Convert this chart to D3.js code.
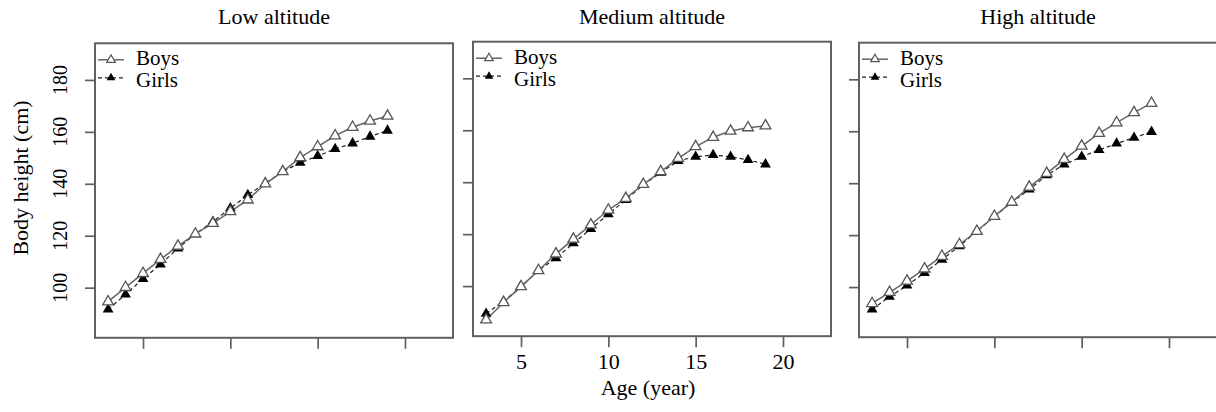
<!DOCTYPE html>
<meta charset='utf-8'>
<body style='margin:0;background:#fff'>
<script src='https://d3js.org/d3.v7.min.js'></script>
<script>
  const ages = [3, 4, 5, 6, 7, 8, 9, 10, 11, 12, 13, 14, 15, 16, 17, 18, 19];

  const lowBoys   = [94.6, 100.1, 105.5, 110.9, 116.0, 120.7, 124.8, 129.3, 133.8, 140.0, 144.7, 150.1, 154.3, 158.5, 161.8, 164.2, 166.1];
  const lowGirls  = [91.6, 97.4, 103.4, 109.0, 115.1, 120.7, 125.4, 130.6, 135.7, 140.2, 144.7, 148.1, 150.7, 153.4, 155.6, 158.2, 160.5];
  const medBoys   = [87.0, 93.7, 99.8, 106.0, 112.4, 118.1, 123.6, 129.3, 133.8, 139.2, 144.1, 149.2, 153.7, 157.3, 159.7, 161.0, 161.7];
  const medGirls  = [89.4, 94.1, 99.8, 106.0, 110.8, 116.5, 122.0, 127.7, 133.2, 139.0, 143.7, 148.2, 149.8, 150.5, 149.8, 148.6, 146.9];
  const highBoys  = [93.7, 98.0, 102.3, 107.0, 111.9, 116.4, 121.5, 127.3, 132.7, 138.5, 143.8, 149.2, 154.3, 159.2, 163.3, 167.2, 170.8];
  const highGirls = [91.4, 96.3, 100.6, 105.5, 110.6, 115.8, 121.5, 127.1, 132.7, 137.6, 143.1, 147.2, 150.2, 152.8, 155.3, 157.5, 159.8];

  const panelTitles = ['Low altitude', 'Medium altitude', 'High altitude'];
  const legendLabels = ['Boys', 'Girls'];
  const xTicks = [5, 10, 15, 20];
  const yTicks = [100, 120, 140, 160, 180];

  const panels = [
    { title: panelTitles[0], boys: lowBoys, girls: lowGirls, left: 95, top: 43.3, xLabels: false, yLabels: true },
    { title: panelTitles[1], boys: medBoys, girls: medGirls, left: 473, top: 41.7, xLabels: true, yLabels: false },
    { title: panelTitles[2], boys: highBoys, girls: highGirls, left: 859, top: 42.7, xLabels: false, yLabels: false }
  ];

  const W = 1216, H = 412;
  const pw = 358, ph = 294.5;
  const font = "'Liberation Serif', 'Times New Roman', serif";
  const frame = '#606060';

  const x = d3.scaleLinear().domain([2.25, 22.75]).range([0, pw]);
  const y = d3.scaleLinear().domain([80.7, 194.1]).range([ph, 0]);

  const svg = d3.select('body').append('svg')
    .attr('width', W)
    .attr('height', H)
    .style('font-family', font);

  const tri = d3.symbol().type(d3.symbolTriangle).size(50);
  const triSmall = d3.symbol().type(d3.symbolTriangle).size(32);

  const line = d3.line()
    .x(d => x(d[0]))
    .y(d => y(d[1]));

  panels.forEach(p => {
    const g = svg.append('g')
      .attr('transform', `translate(${p.left}, ${p.top})`);

    g.append('text')
      .attr('x', pw / 2)
      .attr('y', 24 - p.top)
      .attr('text-anchor', 'middle')
      .style('font-size', '22px')
      .text(p.title);

    // x axis
    const xa = g.append('g')
      .attr('transform', `translate(0, ${ph})`)
      .call(d3.axisBottom(x).tickValues(xTicks).tickSize(11).tickPadding(6)
        .tickFormat(p.xLabels ? d3.format('d') : ''));
    // y axis
    const ya = g.append('g')
      .call(d3.axisLeft(y).tickValues(yTicks).tickSize(10).tickFormat(''));

    [xa, ya].forEach(a => {
      a.select('.domain').remove();
      a.selectAll('line').attr('stroke', frame).attr('stroke-width', 1.7);
      a.selectAll('text').style('font-size', '22px').style('font-family', font).attr('fill', '#000');
    });

    if (p.yLabels) {
      yTicks.forEach(t => {
        g.append('text')
          .attr('transform', `translate(${67 - p.left}, ${y(t)}) rotate(-90)`)
          .attr('text-anchor', 'middle')
          .style('font-size', '20px')
          .text(t);
      });
    }

    g.append('rect')
      .attr('width', pw)
      .attr('height', ph)
      .attr('fill', 'none')
      .attr('stroke', frame)
      .attr('stroke-width', 2);

    const boysPts = ages.map((a, i) => [a, p.boys[i]]);
    const girlsPts = ages.map((a, i) => [a, p.girls[i]]);

    g.append('path')
      .attr('d', line(girlsPts))
      .attr('fill', 'none')
      .attr('stroke', '#222')
      .attr('stroke-width', 1.2)
      .attr('stroke-dasharray', '4,3');

    g.append('path')
      .attr('d', line(boysPts))
      .attr('fill', 'none')
      .attr('stroke', '#666')
      .attr('stroke-width', 1.5);

    g.selectAll('.girl')
      .data(girlsPts)
      .join('path')
      .attr('transform', d => `translate(${x(d[0])}, ${y(d[1])})`)
      .attr('d', tri)
      .attr('fill', '#000');

    g.selectAll('.boy')
      .data(boysPts)
      .join('path')
      .attr('transform', d => `translate(${x(d[0])}, ${y(d[1])})`)
      .attr('d', tri)
      .attr('fill', '#fff')
      .attr('stroke', '#555')
      .attr('stroke-width', 1.3);

    // legend
    const lg = g.append('g').attr('transform', 'translate(3, 16.5)');
    lg.append('line')
      .attr('x1', 0).attr('x2', 26).attr('y1', 0).attr('y2', 0)
      .attr('stroke', '#666').attr('stroke-width', 1.5);
    lg.append('path')
      .attr('transform', 'translate(13, 0)')
      .attr('d', triSmall)
      .attr('fill', '#fff').attr('stroke', '#555').attr('stroke-width', 1.2);
    lg.append('text')
      .attr('x', 38).attr('y', 5.5)
      .style('font-size', '21px')
      .text(legendLabels[0]);

    lg.append('line')
      .attr('x1', 0).attr('x2', 26).attr('y1', 18).attr('y2', 18)
      .attr('stroke', '#222').attr('stroke-width', 1.2).attr('stroke-dasharray', '4,3');
    lg.append('path')
      .attr('transform', 'translate(13, 18)')
      .attr('d', triSmall)
      .attr('fill', '#000');
    lg.append('text')
      .attr('x', 38).attr('y', 27.5)
      .style('font-size', '21px')
      .text(legendLabels[1]);
  });

  svg.append('text')
    .attr('x', 648)
    .attr('y', 395)
    .attr('text-anchor', 'middle')
    .style('font-size', '22px')
    .text('Age (year)');

  svg.append('text')
    .attr('transform', 'translate(28, 178) rotate(-90)')
    .attr('text-anchor', 'middle')
    .style('font-size', '22px')
    .text('Body height (cm)');
</script>
